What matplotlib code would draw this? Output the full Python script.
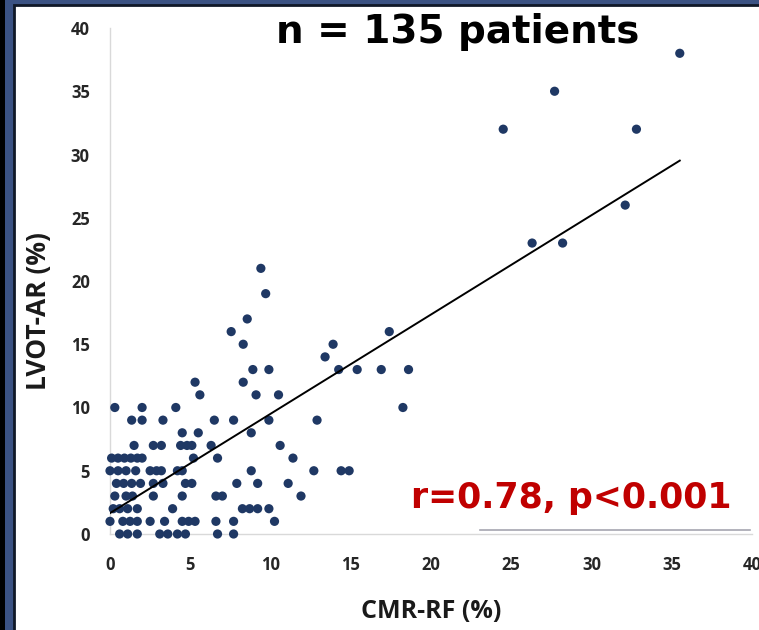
import numpy as np
import matplotlib
matplotlib.use("Agg")
import matplotlib.pyplot as plt
from matplotlib.patches import Rectangle

# ── data (grouped by LVOT-AR row) ───────────────────────────────────────────
CMR_RF = [
    # y = 0
    0.6, 1.1, 1.7, 3.1, 3.6, 4.2, 4.7, 6.7, 7.7,
    # y = 1
    0.0, 0.8, 1.25, 1.7, 2.5, 3.4, 4.5, 4.9, 5.3, 6.6, 7.7, 10.25,
    # y = 2
    0.2, 0.6, 1.1, 1.7, 3.9, 8.25, 8.7, 9.2, 9.9,
    # y = 3
    0.3, 1.0, 1.4, 2.7, 4.5, 6.6, 7.0, 11.9,
    # y = 4
    0.4, 0.85, 1.35, 1.9, 2.7, 3.3, 4.7, 5.1, 7.9, 9.2, 11.1,
    # y = 5
    0.0, 0.5, 1.0, 1.6, 2.5, 2.9, 3.2, 4.2, 4.5, 8.8, 12.7, 14.4, 14.9,
    # y = 6
    0.1, 0.5, 0.9, 1.3, 1.7, 2.0, 5.2, 6.7, 11.4,
    # y = 7
    1.5, 2.7, 3.2, 4.4, 4.8, 5.1, 6.3, 10.6,
    # y = 8
    4.5, 5.5, 8.8,
    # y = 9
    1.35, 2.0, 3.3, 6.5, 7.7, 9.9, 12.9,
    # y = 10
    0.3, 2.0, 4.1, 18.25,
    # y = 11..21
    5.6, 9.1, 10.5,
    5.3, 8.3,
    8.9, 9.9, 14.25, 15.4, 16.9, 18.6,
    13.4,
    8.3, 13.9,
    7.55, 17.4,
    8.55,
    9.7,
    9.4,
    # high values
    26.3, 28.2, 32.1, 24.5, 32.8, 27.7, 35.5,
]
LVOT_AR = (
    [0] * 9 + [1] * 12 + [2] * 9 + [3] * 8 + [4] * 11 + [5] * 13 + [6] * 9
    + [7] * 8 + [8] * 3 + [9] * 7 + [10] * 4 + [11] * 3 + [12] * 2 + [13] * 6
    + [14] + [15] * 2 + [16] * 2 + [17] + [19] + [21]
    + [23, 23, 26, 32, 32, 35, 38]
)

TREND_SLOPE = 0.785
TREND_INTERCEPT = 1.65

X_TICKS = [0, 5, 10, 15, 20, 25, 30, 35, 40]
Y_TICKS = [0, 5, 10, 15, 20, 25, 30, 35, 40]

NAVY = "#3b5283"
DOT = "#1f3864"
RED = "#c00000"

fig = plt.figure(figsize=(7.59, 6.30), dpi=100)
fig.patch.set_facecolor(NAVY)

W, H = 759, 630
# black strip at far left, white panel with dark edge
fig.patches.append(Rectangle((0, 0), 5 / W, 1, transform=fig.transFigure,
                             facecolor="black", edgecolor="none", zorder=-10))
fig.patches.append(Rectangle((14 / W, -0.01), 1, 1 - 5 / H + 0.01,
                             transform=fig.transFigure, facecolor="white",
                             edgecolor="#101828", linewidth=2.0, zorder=-10))

ax = fig.add_axes([110 / W, (H - 534) / H, 642 / W, 506 / H])
ax.set_facecolor("none")
ax.set_xlim(0, 40)
ax.set_ylim(0, 40)

ax.scatter(CMR_RF, LVOT_AR, s=44, color=DOT, edgecolors="none", zorder=3,
           clip_on=False)

xs = np.array([0, max(CMR_RF)])
ax.plot(xs, TREND_INTERCEPT + TREND_SLOPE * xs, color="black", linewidth=1.4,
        zorder=4)

for side in ("top", "right"):
    ax.spines[side].set_visible(False)
for side in ("left", "bottom"):
    ax.spines[side].set_color("#d9d9d9")
    ax.spines[side].set_linewidth(1.0)

ax.set_xticks(X_TICKS)
ax.set_yticks(Y_TICKS)
ax.tick_params(length=0, labelsize=12, labelcolor="#262626")
ax.tick_params(axis="x", pad=16)
ax.tick_params(axis="y", pad=14.5)
for lbl in ax.get_xticklabels() + ax.get_yticklabels():
    lbl.set_fontweight("bold")
    lbl.set_family("Open Sans")

ax.set_xlabel("CMR-RF (%)", fontsize=18, fontweight="bold", family="Open Sans",
              color="#1a1a1a", labelpad=18)
ax.set_ylabel("LVOT-AR (%)", fontsize=19, fontweight="bold", family="Open Sans",
              color="#1a1a1a")
# right edge of the rotated label sits at ~52 px, centred on ~311 px
ax.yaxis.set_label_coords((52 - 110) / 642, (534 - 311) / 506)

fig.text(458 / W, 1 - 32 / H, "n = 135 patients", fontsize=28,
         fontweight="bold", ha="center", va="center", color="black")
fig.text(571 / W, 1 - 498 / H, "r=0.78, p<0.001", fontsize=25,
         fontweight="bold", ha="center", va="center", color=RED)
fig.add_artist(plt.Line2D([480 / W, 750 / W], [1 - 530 / H, 1 - 530 / H],
                          transform=fig.transFigure, color="#a6a6b0",
                          linewidth=1.2))

fig.savefig("out.png", dpi=100, facecolor=fig.get_facecolor())
